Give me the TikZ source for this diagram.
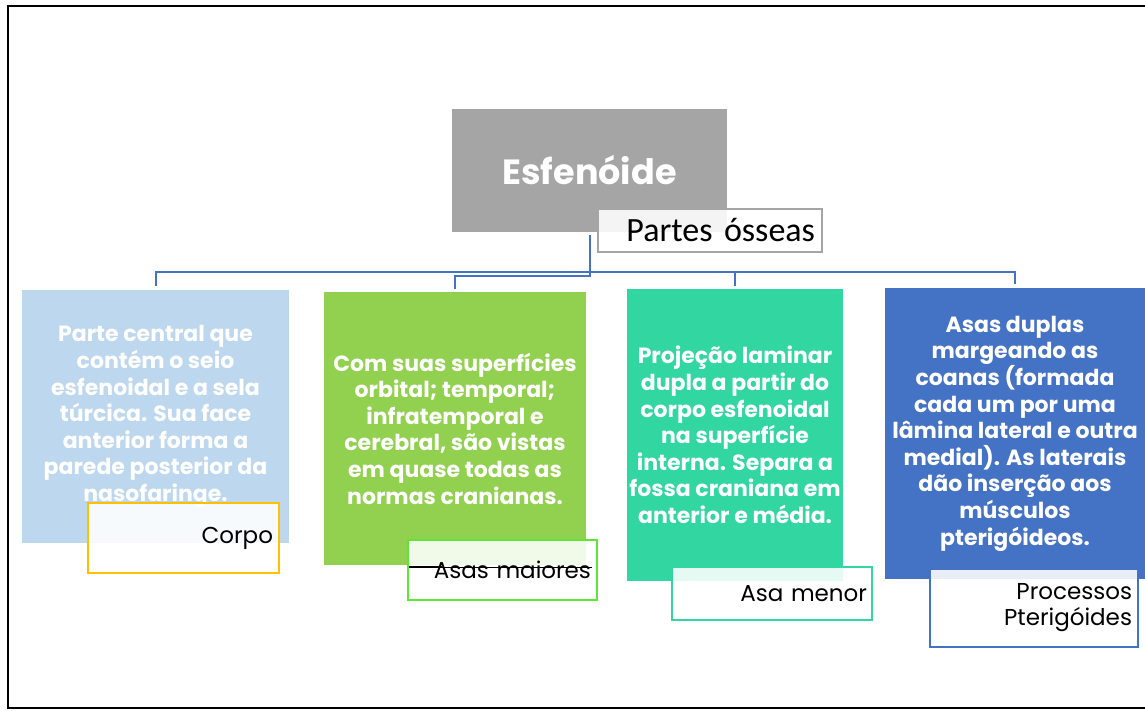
\documentclass[tikz,border=0pt]{standalone}
\usepackage{fontspec}
\newfontfamily\gothic{Poppins}
\newfontfamily\calib{Carlito}
\definecolor{rootgray}{HTML}{A5A5A5}
\definecolor{lblue}{HTML}{BDD7EE}
\definecolor{lgreen}{HTML}{92D050}
\definecolor{lteal}{HTML}{31D6A0}
\definecolor{dblue}{HTML}{4472C4}
\definecolor{gold}{HTML}{FFC000}
\definecolor{bgreen}{HTML}{5CE635}
\begin{document}
\begin{tikzpicture}[x=1pt,y=-1pt,
  boxtext/.style={font=\gothic\bfseries\fontsize{22}{26.6}\selectfont, text=white, align=center, inner sep=0pt},
  card/.style={boxtext, draw=none},
  tag/.style={draw, line width=2pt, fill=white, fill opacity=0.88, text opacity=1, text=black, align=right, inner ysep=0pt,
     font=\gothic\fontsize{23}{26}\selectfont},
  conn/.style={draw=dblue, line width=2pt}]
\useasboundingbox (0,0) rectangle (1145,710);
\draw[line width=2pt, black] (1145,6) -- (8,6) -- (8,708) -- (1145,708);

\node[card, fill=rootgray, minimum width=275pt, minimum height=123pt, font=\gothic\bfseries\fontsize{35}{40}\selectfont] (root) at (589.5,170.5) {Esfenóide};
\node[tag, draw=rootgray, font=\calib\fontsize{34}{38}\selectfont, inner xsep=7pt, text width=210pt, minimum height=43pt] (parts) at (710,230.5) {Partes ósseas};

\node[card, fill=lblue, minimum width=267pt, minimum height=253pt] (b1) at (155.5,416.5)
 {Parte central que\\contém o seio\\esfenoidal e a sela\\túrcica. Sua face\\anterior forma a\\parede posterior da\\nasofaringe.};
\node[card, fill=lgreen, minimum width=262pt, minimum height=273pt] (b2) at (455,428.5)
 {Com suas superfícies\\orbital; temporal;\\infratemporal e\\cerebral, são vistas\\em quase todas as\\normas cranianas.};
\node[card, fill=lteal, minimum width=216pt, minimum height=292pt] (b3) at (735,435)
 {Projeção laminar\\dupla a partir do\\corpo esfenoidal\\na superfície\\interna. Separa a\\fossa craniana em\\anterior e média.};
\node[card, fill=dblue, minimum width=260pt, minimum height=291pt] (b4) at (1015,433.5)
 {Asas duplas\\margeando as\\coanas (formada\\cada um por uma\\lâmina lateral e outra\\medial). As laterais\\dão inserção aos\\músculos\\pterigóideos.};

\node[tag, draw=gold, inner xsep=6pt, text width=179pt, minimum height=70pt] (l1) at (183.5,538) {Corpo};
\node[tag, draw=bgreen, inner xsep=6pt, text width=177pt, minimum height=60pt] (l2) at (502.5,570) {Asas maiores};
\node[tag, draw=lteal, inner xsep=5pt, text width=190pt, minimum height=53pt] (l3) at (772,593.5) {Asa menor};
\node[tag, draw=dblue, inner xsep=6pt, text width=196pt, minimum height=78pt] (l4) at (1034,608) {Processos\\Pterigóides};

\draw[line width=2.2pt] ([xshift=2pt,yshift=3pt]l2.west) -- ++(33,0);
\draw[line width=1pt] ([xshift=2pt,yshift=3pt]l2.west) -- ([xshift=-6pt,yshift=3pt]l2.east);

\coordinate (bus) at (0,272);
\coordinate (bus2) at (0,276);
\draw[conn] ([yshift=4pt]b1.north) -- (b1.north |- bus) -- (b4.north |- bus) -- ([yshift=4pt]b4.north);
\draw[conn] ([yshift=3pt]b3.north) -- (b3.north |- bus);
\draw[conn] ([yshift=-3pt]root.south) -- (root.south |- bus2) -- (b2.north |- bus2) -- ([yshift=3pt]b2.north);
\end{tikzpicture}
\end{document}
